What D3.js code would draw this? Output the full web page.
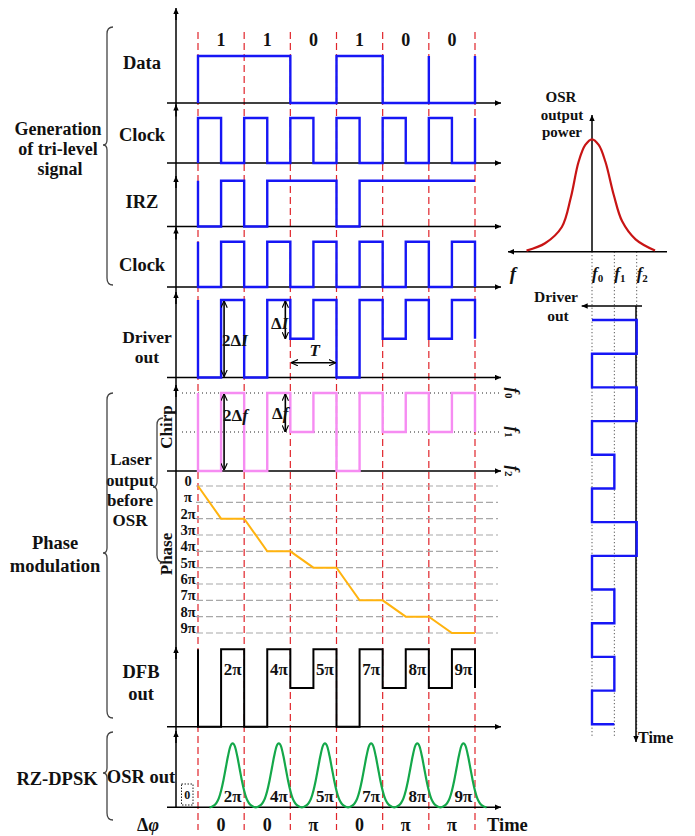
<!DOCTYPE html>
<html><head><meta charset="utf-8">
<script src="https://cdn.jsdelivr.net/npm/d3@7"></script>
<style>
body{margin:0;background:#fff}
svg{display:block}
text{font-family:"Liberation Serif","Times New Roman",serif;font-weight:bold;fill:#111}
</style>
</head><body>
<svg id="c" width="695" height="836"></svg>
<script>
// ---------------- data ----------------
const dataBits   = [1,1,0,1,0,0];
const bitLabels  = ["1","1","0","1","0","0"];
const dataExtraEdges = [5];               // stray edge drawn in the original at start of bit 6
const clockHalf  = [1,0,1,0,1,0,1,0,1,0,1,0];
const irzHalf    = [0,1,0,1,1,1,0,1,1,1,1,1];
const clock2Half = [0,1,0,1,0,1,0,1,0,1,0,1];
const driverHalf = [0,1,0,1,0.5,1,0,1,0.5,1,0.5,1];
const chirpHalf  = [0,1,0,1,0.5,1,0,1,0.5,1,0.5,1];
const dfbHalf    = [0,1,0,1,0.5,1,0,1,0.5,1,0.5,1];
const phaseHalf  = [0,2,2,4,4,5,5,7,7,8,8,9,9];      // in units of pi, at half-bit boundaries
const phaseTicks = ["0","π","2π","3π","4π","5π","6π","7π","8π","9π"];
const phaseMarks = ["2π","4π","5π","7π","8π","9π"];
const deltaPhi   = ["0","0","π","0","π","π"];
const osrPulseAmp = [1,1,1,1,1,1];
const pulseShape = [[-0.5,0],[-0.45,0.01],[-0.4,0.03],[-0.35,0.07],[-0.3,0.14],[-0.25,0.26],[-0.2,0.42],[-0.15,0.61],[-0.1,0.8],[-0.05,0.95],[0,1],
                    [0.05,0.95],[0.1,0.8],[0.15,0.61],[0.2,0.42],[0.25,0.26],[0.3,0.14],[0.35,0.07],[0.4,0.03],[0.45,0.01],[0.5,0]];
const osrResponse = [[-2.93,0.01],[-2.1,0.075],[-1.35,0.22],[-0.95,0.48],[-0.6,0.8],[-0.3,0.95],[0,1],[0.3,0.95],[0.6,0.8],[0.98,0.5],[1.35,0.27],[1.95,0.11],[2.82,0.01]];
const freqSubs   = ["0","1","2"];

// ---------------- setup ----------------
const svg = d3.select("#c");
const defs = svg.append("defs");
defs.append("marker").attr("id","af").attr("viewBox","0 0 10 10").attr("refX",10).attr("refY",5)
  .attr("markerWidth",7).attr("markerHeight",6).attr("markerUnits","userSpaceOnUse").attr("orient","auto-start-reverse")
  .append("path").attr("d","M0,0.5L10,5L0,9.5Z").attr("fill","#000");
defs.append("marker").attr("id","ao").attr("viewBox","0 0 10 10").attr("refX",9.5).attr("refY",5)
  .attr("markerWidth",7).attr("markerHeight",7).attr("markerUnits","userSpaceOnUse").attr("orient","auto-start-reverse")
  .append("path").attr("d","M0,0.5L10,5L0,9.5").attr("fill","none").attr("stroke","#000").attr("stroke-width",1.6);

const x = d3.scaleLinear().domain([0,6]).range([198,475]);
const AX0 = 176, HX0 = 167, HX1 = 501;

const yData  = d3.scaleLinear().domain([0,1]).range([103,56]);
const yClk1  = d3.scaleLinear().domain([0,1]).range([163,118]);
const yIrz   = d3.scaleLinear().domain([0,1]).range([226.5,180.7]);
const yClk2  = d3.scaleLinear().domain([0,1]).range([287,241.7]);
const yDrv   = d3.scaleLinear().domain([0,1]).range([377.5,300]);
const yChirp = d3.scaleLinear().domain([0,1]).range([471,393]);
const yPhase = d3.scaleLinear().domain([0,9]).range([486,633]);
const yDfb   = d3.scaleLinear().domain([0,1]).range([726.7,649.3]);
const yOsr   = d3.scaleLinear().domain([0,1]).range([807.3,743.3]);

const BLUE="#1616f5", PINK="#f68cf2", ORANGE="#ffb30f", GREEN="#14a84a", RED="#e0242a";

function stepPts(pre, levels, post){
  const pts=[[0,pre]];
  levels.forEach((l,i)=>{pts.push([i/2,l]);pts.push([(i+1)/2,l]);});
  if(post!=null) pts.push([levels.length/2,post]);
  return pts;
}
function text(g,t,xx,yy,opt={}){
  const el=g.append("text").attr("x",xx).attr("y",yy).attr("text-anchor",opt.anchor||"middle")
    .attr("dy",opt.dy||"0.35em").attr("font-size",opt.size||18.5);
  if(opt.italic) el.attr("font-style","italic");
  el.text(t); return el;
}
function mtext(g,lines,size){
  const el=g.append("text").attr("text-anchor","middle").attr("font-size",size||18.5);
  lines.forEach(([t,xx,yy])=>el.append("tspan").attr("x",xx).attr("y",yy).attr("dy","0.35em").text(t));
  return el;
}

// ---------------- red dashed bit boundaries ----------------
svg.append("g").selectAll("line").data(d3.range(0,7)).join("line")
  .attr("x1",d=>x(d)).attr("x2",d=>x(d)).attr("y1",32).attr("y2",830)
  .attr("stroke",RED).attr("stroke-width",1.2).attr("stroke-dasharray","7,4");

// ---------------- phase grid ----------------
svg.append("g").selectAll("line").data(phaseTicks).join("line")
  .attr("x1",196).attr("x2",498).attr("y1",(d,i)=>yPhase(i)).attr("y2",(d,i)=>yPhase(i))
  .attr("stroke","#a8a8a8").attr("stroke-width",1.1).attr("stroke-dasharray","7,3");
phaseTicks.forEach((t,i)=>text(svg,t,188,yPhase(i)-5,{size:14.5}));

// chirp dotted levels
[1,0.5].forEach(v=>svg.append("line").attr("x1",182).attr("x2",500).attr("y1",yChirp(v)).attr("y2",yChirp(v))
  .attr("stroke","#222").attr("stroke-width",1).attr("stroke-dasharray","1,3"));
[1,0.5,0].forEach((v,i)=>{
  const g=svg.append("g").attr("transform",`translate(513,${yChirp(v)}) rotate(90)`);
  const t=g.append("text").attr("text-anchor","middle").attr("dy","0.3em").attr("font-size",17).attr("font-weight","normal");
  t.append("tspan").attr("font-style","italic").text("f");
  t.append("tspan").attr("font-size",11).attr("dy",3).text(freqSubs[i]);
});

// ---------------- axes ----------------
const axG = svg.append("g").attr("stroke","#000").attr("stroke-width",1.5);
axG.append("line").attr("x1",AX0).attr("x2",AX0).attr("y1",10).attr("y2",807.3);
[[103,8],[163,104.5],[226.5,176],[287,227.5],[377.5,292],[471,385],[726.7,647],[807.3,731]].forEach(([b,t])=>{
  axG.append("line").attr("x1",AX0).attr("x2",AX0).attr("y1",t+12).attr("y2",t).attr("marker-end","url(#af)");
});
[103,163,226.5,287,377.5,471,726.7,807.3].forEach(b=>{
  axG.append("line").attr("x1",HX0).attr("x2",HX1).attr("y1",b).attr("y2",b).attr("marker-end","url(#af)");
});

// ---------------- waveforms ----------------
function wave(pts, ys, color, w){
  svg.append("path").attr("d",d3.line().x(d=>x(d[0])).y(d=>ys(d[1]))(pts))
    .attr("fill","none").attr("stroke",color).attr("stroke-width",w||2.4).attr("stroke-linejoin","miter");
}
wave(stepPts(0, dataBits.flatMap(b=>[b,b]), 1), yData, BLUE);
dataExtraEdges.forEach(e=>svg.append("line").attr("x1",x(e)).attr("x2",x(e)).attr("y1",yData(1)).attr("y2",yData(0))
  .attr("stroke",BLUE).attr("stroke-width",2.4));
bitLabels.forEach((b,i)=>text(svg,b,x(i+0.5),40,{size:18}));
wave(stepPts(0, clockHalf, 1), yClk1, BLUE);
wave(stepPts(1, irzHalf, null), yIrz, BLUE);
wave(stepPts(1, clock2Half, 0), yClk2, BLUE);
wave(stepPts(1, driverHalf, 0.5), yDrv, BLUE);
wave(stepPts(1, chirpHalf, 0.5), yChirp, PINK);
svg.append("path").attr("d",d3.line().x((d,i)=>x(i/2)).y(d=>yPhase(d))(phaseHalf))
  .attr("fill","none").attr("stroke",ORANGE).attr("stroke-width",2);
wave(stepPts(1, dfbHalf, 0.5), yDfb, "#000", 2);
phaseMarks.forEach((m,i)=>text(svg,m,x(i+0.75),669,{size:17}));

// OSR pulses
const pulsePts=[];
osrPulseAmp.forEach((a,i)=>pulseShape.forEach(([o,v])=>pulsePts.push([i+0.75+o, a*v])));
svg.append("path").attr("d",d3.line().curve(d3.curveMonotoneX).x(d=>x(d[0])).y(d=>yOsr(d[1]))(pulsePts))
  .attr("fill","none").attr("stroke",GREEN).attr("stroke-width",2.2);
phaseMarks.forEach((m,i)=>text(svg,m,x(i+0.75),796,{size:17}));
deltaPhi.forEach((d,i)=>text(svg,d,x(i+0.5),825,{size:18}));
svg.append("rect").attr("x",181.5).attr("y",784).attr("width",11.5).attr("height",21)
  .attr("fill","none").attr("stroke","#222").attr("stroke-width",1).attr("stroke-dasharray","1.5,1.5");
text(svg,"0",187.3,795,{size:12});

// ---------------- annotations ----------------
const ann = svg.append("g").attr("stroke","#000").attr("stroke-width",1.6);
ann.append("line").attr("x1",x(0.5)+3).attr("x2",x(0.5)+3).attr("y1",yDrv(1)+1).attr("y2",yDrv(0)-1)
  .attr("marker-start","url(#ao)").attr("marker-end","url(#ao)");
ann.append("line").attr("x1",x(2)-5).attr("x2",x(2)-5).attr("y1",yDrv(1)+1).attr("y2",yDrv(0.5))
  .attr("marker-start","url(#ao)").attr("marker-end","url(#ao)");
ann.append("line").attr("x1",x(2)+1).attr("x2",x(3)-1).attr("y1",362.7).attr("y2",362.7)
  .attr("marker-start","url(#ao)").attr("marker-end","url(#ao)");
ann.append("line").attr("x1",x(0.5)+3).attr("x2",x(0.5)+3).attr("y1",yChirp(1)+1).attr("y2",yChirp(0)-1)
  .attr("marker-start","url(#ao)").attr("marker-end","url(#ao)");
ann.append("line").attr("x1",x(2)-5).attr("x2",x(2)-5).attr("y1",yChirp(1)+1).attr("y2",yChirp(0.5))
  .attr("marker-start","url(#ao)").attr("marker-end","url(#ao)");
function annText(xx,yy,pre,it,anchor){
  const t=svg.append("text").attr("x",xx).attr("y",yy).attr("dy","0.35em").attr("font-size",17).attr("text-anchor",anchor||"start");
  t.append("tspan").text(pre); t.append("tspan").attr("font-style","italic").text(it); return t;
}
annText(x(0.5)+1,340,"2Δ","I");
annText(x(2)-2,323,"Δ","I","end");
annText(x(2.5)-4,350.5,"","T");
annText(x(0.5)+2,415,"2Δ","f");
annText(x(2)-2,413,"Δ","f","end");

// ---------------- left labels ----------------
const L = svg.append("g");
text(L,"Data",142,63); text(L,"Clock",142,135); text(L,"IRZ",142,202); text(L,"Clock",142,265);
mtext(L,[["Driver",147,337],["out",147,357]],17.5);
mtext(L,[["Generation",58,129],["of tri-level",58,149],["signal",60,169]],18);
mtext(L,[["Laser",131,459],["output",130,480],["before",130,500],["OSR",130,520]],17);
mtext(L,[["Phase",55,543],["modulation",55,566]]);
mtext(L,[["DFB",141,672],["out",141,694]]);
text(L,"RZ-DPSK",57,779); text(L,"OSR out",141,777);
const dp=L.append("text").attr("x",148).attr("y",825).attr("dy","0.35em").attr("text-anchor","middle").attr("font-size",18);
dp.append("tspan").text("Δ"); dp.append("tspan").attr("font-style","italic").text("φ");
text(L,"Time",487,825,{anchor:"start"});
L.append("text").attr("transform","translate(166,427) rotate(-90)").attr("text-anchor","middle").attr("dy","0.35em").attr("font-size",17).text("Chirp");
L.append("text").attr("transform","translate(166,554) rotate(-90)").attr("text-anchor","middle").attr("dy","0.35em").attr("font-size",17).text("Phase");

// braces
function brace(bx,y1,y2,ty){
  const p=`M${bx+6},${y1} Q${bx},${y1} ${bx},${y1+7} L${bx},${ty-5} Q${bx},${ty} ${bx-4},${ty} Q${bx},${ty} ${bx},${ty+5} L${bx},${y2-7} Q${bx},${y2} ${bx+6},${y2}`;
  svg.append("path").attr("d",p).attr("fill","none").attr("stroke","#444").attr("stroke-width",1.3);
}
brace(107,27,285,145);
brace(107,393,718,553);
brace(107,732,820,773);
brace(157,418,562,487);

// ---------------- right panel: OSR response ----------------
const fx = d3.scaleLinear().domain([0,2]).range([592,636.7]);
const py = d3.scaleLinear().domain([0,1]).range([251.7,139.3]);
const R = svg.append("g");
[0,1,2].forEach(f=>R.append("line").attr("x1",fx(f)).attr("x2",fx(f)).attr("y1",py(0)).attr("y2",737)
  .attr("stroke","#333").attr("stroke-width",1).attr("stroke-dasharray","1,2.5"));
R.append("line").attr("x1",667).attr("x2",508).attr("y1",py(0)).attr("y2",py(0)).attr("stroke","#000").attr("stroke-width",1.5).attr("marker-end","url(#af)");
R.append("line").attr("x1",fx(0)).attr("x2",fx(0)).attr("y1",py(0)).attr("y2",115).attr("stroke","#000").attr("stroke-width",1.5).attr("marker-end","url(#af)");
R.append("path").attr("d",d3.line().curve(d3.curveCatmullRom).x(d=>fx(d[0])).y(d=>py(d[1]))(osrResponse))
  .attr("fill","none").attr("stroke","#c81414").attr("stroke-width",2.2);
mtext(R,[["OSR",561,97],["output",562,114.5],["power",562,132]],15);
R.append("text").attr("x",513).attr("y",273).attr("dy","0.35em").attr("text-anchor","middle").attr("font-size",19).attr("font-style","italic").attr("font-weight","normal").text("f");
freqSubs.forEach((s,i)=>{
  const t=R.append("text").attr("x",fx(i)).attr("y",273).attr("dy","0.35em").attr("text-anchor","start").attr("font-size",17).attr("font-weight","normal");
  t.append("tspan").attr("font-style","italic").text("f");
  t.append("tspan").attr("font-size",11).attr("dy",3).text(s);
});

// rotated driver
const ty = d3.scaleLinear().domain([0,6]).range([320,724.3]);
const lv = l=>fx(2-2*l);
R.append("line").attr("x1",642).attr("x2",581.7).attr("y1",306).attr("y2",306).attr("stroke","#000").attr("stroke-width",1.5).attr("marker-end","url(#af)");
R.append("line").attr("x1",636).attr("x2",636).attr("y1",306).attr("y2",742).attr("stroke","#000").attr("stroke-width",1.5).attr("marker-end","url(#af)");
const rpts = stepPts(1, driverHalf, 0.5);
R.append("path").attr("d",d3.line().x(d=>lv(d[1])).y(d=>ty(d[0]))(rpts))
  .attr("fill","none").attr("stroke",BLUE).attr("stroke-width",2.4);
mtext(R,[["Driver",556,297],["out",558,315.5]],15.5);
text(R,"Time",638,737,{anchor:"start",size:16});
</script>
</body></html>
